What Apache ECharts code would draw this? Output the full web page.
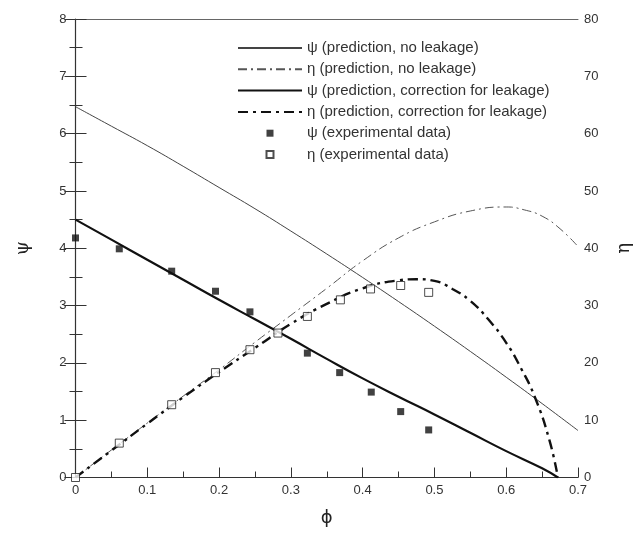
<!DOCTYPE html>
<html>
<head>
<meta charset="utf-8">
<script src="https://cdn.jsdelivr.net/npm/echarts@6/dist/echarts.min.js"></script>
<style>
html,body{margin:0;padding:0;background:#fff;}
#chart{width:634px;height:534px;}
</style>
</head>
<body>
<div id="chart"></div>
<script>
// ---- data ----
const phiNoLeakPsi = [0, 0.05, 0.1, 0.15, 0.2, 0.25, 0.3, 0.35, 0.4, 0.45, 0.5, 0.55, 0.6, 0.65, 0.7];
const psiNoLeak    = [6.47, 6.13, 5.79, 5.43, 5.06, 4.69, 4.30, 3.90, 3.49, 3.07, 2.64, 2.20, 1.75, 1.29, 0.82];

const phiNoLeakEta = [0, 0.05, 0.1, 0.15, 0.2, 0.25, 0.3, 0.35, 0.4, 0.45, 0.5, 0.55, 0.6, 0.625, 0.65, 0.675, 0.7];
const etaNoLeak    = [0, 4.8, 9.5, 14.2, 18.8, 23.6, 28.3, 33.0, 37.8, 41.8, 44.6, 46.5, 47.2, 46.7, 45.6, 43.4, 40.3];

const phiLeakPsi = [0, 0.05, 0.1, 0.15, 0.2, 0.25, 0.3, 0.35, 0.4, 0.45, 0.5, 0.55, 0.6, 0.65, 0.672];
const psiLeak    = [4.50, 4.15, 3.80, 3.45, 3.10, 2.76, 2.42, 2.07, 1.73, 1.41, 1.10, 0.78, 0.46, 0.16, 0];

const phiLeakEta = [0, 0.05, 0.1, 0.15, 0.2, 0.25, 0.3, 0.35, 0.4, 0.45, 0.475, 0.5, 0.525, 0.55, 0.575, 0.6, 0.62, 0.64, 0.66, 0.672];
const etaLeak    = [0, 4.7, 9.4, 14.0, 18.4, 22.6, 26.8, 30.3, 33.0, 34.4, 34.6, 34.3, 32.9, 30.8, 27.6, 23.5, 19.2, 14.0, 6.6, 0];

const phiExpPsi = [0, 0.061, 0.134, 0.195, 0.243, 0.323, 0.368, 0.412, 0.453, 0.492];
const psiExp    = [4.18, 3.99, 3.60, 3.25, 2.89, 2.17, 1.83, 1.49, 1.15, 0.83];

const phiExpEta = [0, 0.061, 0.134, 0.195, 0.243, 0.282, 0.323, 0.369, 0.411, 0.453, 0.492];
const etaExp    = [0, 6.0, 12.7, 18.3, 22.3, 25.2, 28.1, 31.0, 32.9, 33.5, 32.3];

const seriesNames = [
  'ψ (prediction, no leakage)',
  'η (prediction, no leakage)',
  'ψ (prediction, correction for leakage)',
  'η (prediction, correction for leakage)',
  'ψ (experimental data)',
  'η (experimental data)'
];

const pair = (xs, ys) => xs.map((x, i) => [x, ys[i]]);

const chart = echarts.init(document.getElementById('chart'), null, {renderer: 'canvas'});
const FONT = 'Liberation Sans';
const labelStyle = {color: '#333', fontFamily: FONT, fontSize: 13};
const hiddenSymbol = {color: 'rgba(0,0,0,0)', borderColor: 'rgba(0,0,0,0)', borderWidth: 0, opacity: 0};
const squareIcon = 'path://M0,0h10v10h-10z';

chart.setOption({
  animation: false,
  backgroundColor: '#fff',
  grid: {left: 75.5, right: 56, top: 19, bottom: 56.5, containLabel: false, outerBoundsMode: 'none'},
  legend: {
    orient: 'vertical',
    left: 232,
    top: 35.5,
    itemWidth: 64,
    itemHeight: 7,
    itemGap: 6.3,
    textStyle: {color: '#333', fontFamily: FONT, fontSize: 15, lineHeight: 14},
    data: [
      {name: seriesNames[0], itemStyle: hiddenSymbol},
      {name: seriesNames[1], itemStyle: hiddenSymbol},
      {name: seriesNames[2], itemStyle: hiddenSymbol},
      {name: seriesNames[3], itemStyle: hiddenSymbol},
      {name: seriesNames[4], icon: squareIcon},
      {name: seriesNames[5], icon: squareIcon}
    ]
  },
  xAxis: [{
    type: 'value', min: 0, max: 0.7, interval: 0.1,
    name: 'ϕ', nameLocation: 'middle', nameGap: 32,
    nameTextStyle: {color: '#222', fontFamily: 'DejaVu Sans', fontSize: 18},
    axisLine: {show: true, lineStyle: {color: '#333', width: 1}},
    axisTick: {show: true, inside: true, length: 10, lineStyle: {color: '#333'}},
    minorTick: {show: true, splitNumber: 2, length: 6, lineStyle: {color: '#333'}},
    axisLabel: Object.assign({margin: 6}, labelStyle),
    splitLine: {show: false}
  }, {
    type: 'value', min: 0, max: 0.7, position: 'top',
    axisLine: {show: true, onZero: false, lineStyle: {color: '#666', width: 1}},
    axisTick: {show: false}, axisLabel: {show: false}, splitLine: {show: false}
  }],
  yAxis: [{
    type: 'value', min: 0, max: 8, interval: 1, position: 'left',
    name: 'ψ', nameLocation: 'middle', nameGap: 43, nameRotate: 90,
    nameTextStyle: {color: '#222', fontFamily: 'DejaVu Serif', fontSize: 18},
    axisLine: {show: true, lineStyle: {color: '#333', width: 1.2}},
    axisTick: {show: true, inside: true, length: 11, lineStyle: {color: '#333'}},
    minorTick: {show: true, splitNumber: 2, length: 7, lineStyle: {color: '#333'}},
    axisLabel: Object.assign({margin: 9}, labelStyle),
    splitLine: {show: false}
  }, {
    type: 'value', min: 0, max: 80, interval: 10, position: 'right',
    name: 'η', nameLocation: 'middle', nameGap: 37, nameRotate: 90,
    nameTextStyle: {color: '#222', fontFamily: 'DejaVu Serif', fontSize: 18},
    axisLine: {show: false},
    axisTick: {show: true, inside: true, length: 11, lineStyle: {color: '#333'}},
    minorTick: {show: true, splitNumber: 2, length: 6, lineStyle: {color: '#333'}},
    axisLabel: Object.assign({margin: 6}, labelStyle),
    splitLine: {show: false}
  }],
  series: [
    {
      name: seriesNames[0], type: 'line', yAxisIndex: 0, smooth: true, symbol: 'none',
      lineStyle: {color: '#444', width: 1, type: 'solid'}, itemStyle: {color: '#444'},
      data: pair(phiNoLeakPsi, psiNoLeak), z: 2
    },
    {
      name: seriesNames[1], type: 'line', yAxisIndex: 1, smooth: true, symbol: 'none',
      lineStyle: {color: '#555', width: 1, type: [9, 4, 2, 4]}, itemStyle: {color: '#555'},
      data: pair(phiNoLeakEta, etaNoLeak), z: 2
    },
    {
      name: seriesNames[2], type: 'line', yAxisIndex: 0, smooth: true, symbol: 'none',
      lineStyle: {color: '#111', width: 2.2, type: 'solid'}, itemStyle: {color: '#111'},
      data: pair(phiLeakPsi, psiLeak), z: 3
    },
    {
      name: seriesNames[3], type: 'line', yAxisIndex: 1, smooth: true, symbol: 'none',
      lineStyle: {color: '#111', width: 2.4, type: [10, 5, 3, 5]}, itemStyle: {color: '#111'},
      data: pair(phiLeakEta, etaLeak), z: 3
    },
    {
      name: seriesNames[4], type: 'scatter', yAxisIndex: 0, symbol: 'rect', symbolSize: 7, clip: false,
      itemStyle: {color: '#111'},
      data: pair(phiExpPsi, psiExp), z: 4
    },
    {
      name: seriesNames[5], type: 'scatter', yAxisIndex: 1, symbol: 'rect', symbolSize: 8, clip: false,
      itemStyle: {color: '#fff', borderColor: '#222', borderWidth: 1},
      data: pair(phiExpEta, etaExp), z: 4
    }
  ]
});
</script>
</body>
</html>
